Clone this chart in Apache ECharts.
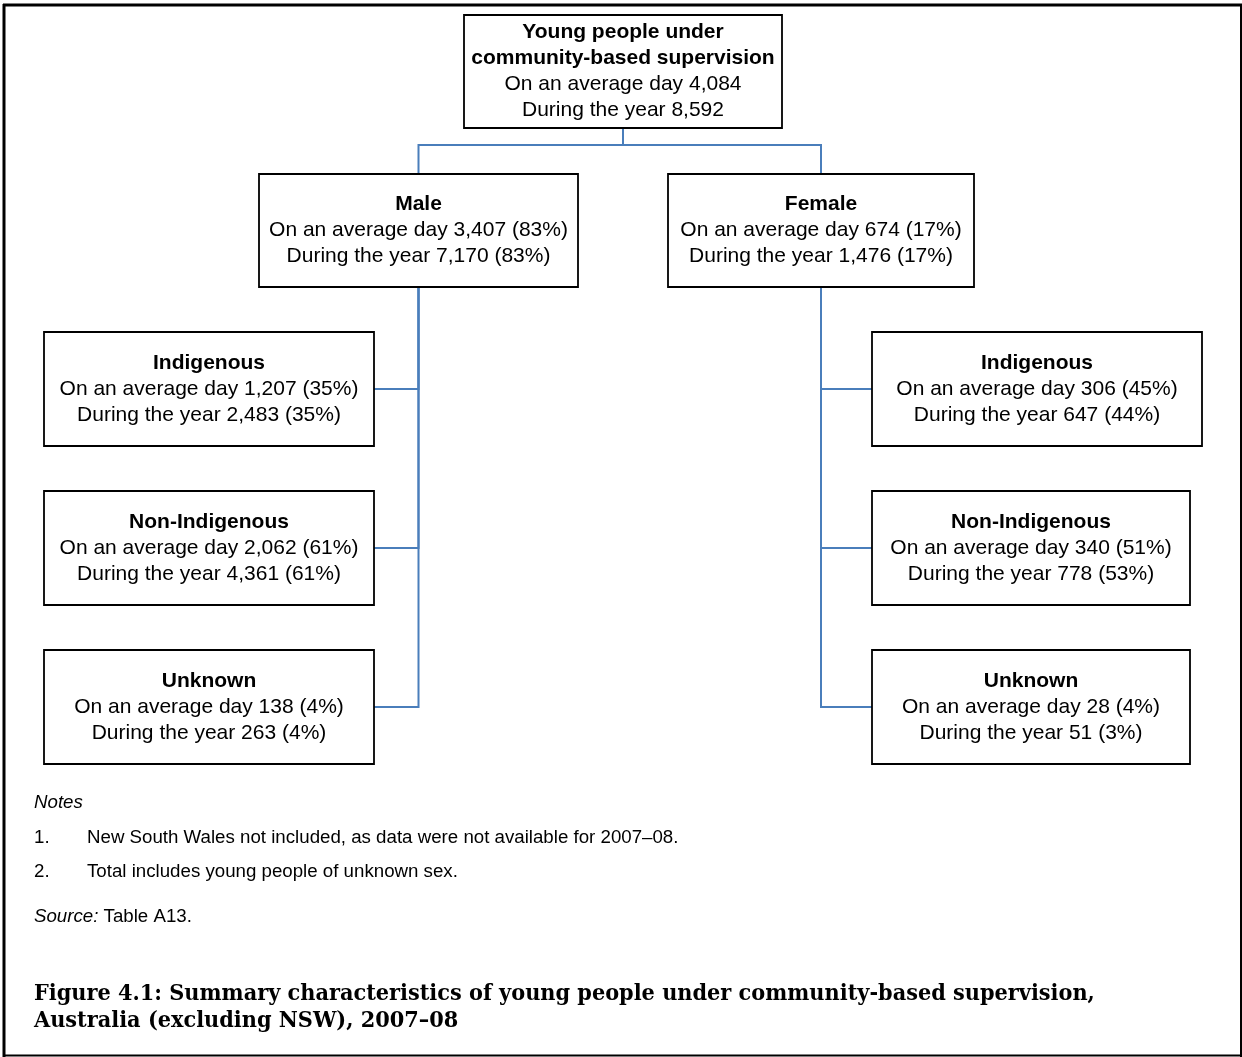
<!DOCTYPE html>
<html>
<head>
<meta charset="utf-8">
<script src="https://cdn.jsdelivr.net/npm/echarts@6/dist/echarts.min.js"></script>
<style>
html,body{margin:0;padding:0;background:#fff;}
#chart{width:1242px;height:1057px;}
</style>
</head>
<body>
<div id="chart"></div>
<script>
// ---- data ----
const nodeTitles = ['Young people under|community-based supervision', 'Male', 'Female',
  'Indigenous', 'Non-Indigenous', 'Unknown', 'Indigenous', 'Non-Indigenous', 'Unknown'];
const nodeParents = [null, 0, 0, 1, 1, 1, 2, 2, 2];
const avgDay = [4084, 3407, 674, 1207, 2062, 138, 306, 340, 28];
const avgDayPct = [null, 83, 17, 35, 61, 4, 45, 51, 4];
const duringYear = [8592, 7170, 1476, 2483, 4361, 263, 647, 778, 51];
const duringYearPct = [null, 83, 17, 35, 61, 4, 44, 53, 3];
const notesHeading = 'Notes';
const notes = ['New South Wales not included, as data were not available for 2007\u201308.',
  'Total includes young people of unknown sex.'];
const sourceLabel = 'Source:';
const sourceText = ' Table A13.';
const captionLines = ['Figure 4.1: Summary characteristics of young people under community-based supervision,',
  'Australia (excluding NSW), 2007\u201308'];

// ---- layout (positions / sizes only) ----
const boxLayout = [
  [464, 15, 318, 113],
  [259, 174, 319, 113],
  [668, 174, 306, 113],
  [44, 332, 330, 114],
  [44, 491, 330, 114],
  [44, 650, 330, 114],
  [872, 332, 330, 114],
  [872, 491, 318, 114],
  [872, 650, 318, 114]
];
const rootBusY = 145;
const lineGap = 26;
const boxFont = '"Liberation Sans", Arial, sans-serif';
const boxFontSize = 21;
const connColor = '#4a7ebb';

function fmt(n) { return String(n).replace(/\B(?=(\d{3})+(?!\d))/g, ','); }

const chart = echarts.init(document.getElementById('chart'), null, {renderer: 'canvas'});
const elements = [];

// outer frame
elements.push({type: 'line', shape: {x1: 3, y1: 5, x2: 1242, y2: 5}, style: {stroke: '#000', lineWidth: 3}});
elements.push({type: 'line', shape: {x1: 4, y1: 4, x2: 4, y2: 1057}, style: {stroke: '#000', lineWidth: 3}});
elements.push({type: 'line', shape: {x1: 1241, y1: 4, x2: 1241, y2: 1057}, style: {stroke: '#000', lineWidth: 2}});
elements.push({type: 'line', shape: {x1: 3, y1: 1055.5, x2: 1242, y2: 1055.5}, style: {stroke: '#000', lineWidth: 2}});

// connectors
nodeParents.forEach((p, i) => {
  if (p === null) return;
  const pb = boxLayout[p], cb = boxLayout[i];
  const px = pb[0] + pb[2] / 2, pyBottom = pb[1] + pb[3];
  let pts;
  if (p === 0) {
    const cx = cb[0] + cb[2] / 2;
    pts = [[px, pyBottom], [px, rootBusY], [cx, rootBusY], [cx, cb[1]]];
  } else {
    const cy = cb[1] + cb[3] / 2;
    const edge = cb[0] + cb[2] < px ? cb[0] + cb[2] : cb[0];
    pts = [[px, pyBottom], [px, cy], [edge, cy]];
  }
  elements.push({type: 'polyline', shape: {points: pts}, style: {stroke: connColor, lineWidth: 2, fill: null}, z: 1});
});

// boxes
nodeTitles.forEach((t, i) => {
  const b = boxLayout[i];
  elements.push({type: 'rect', shape: {x: b[0], y: b[1], width: b[2], height: b[3]},
    style: {fill: '#fff', stroke: '#000', lineWidth: 1.8}, z: 2});
  const lines = [];
  t.split('|').forEach(s => lines.push({text: s, bold: true}));
  lines.push({text: 'On an average day ' + fmt(avgDay[i]) + (avgDayPct[i] !== null ? ' (' + avgDayPct[i] + '%)' : ''), bold: false});
  lines.push({text: 'During the year ' + fmt(duringYear[i]) + (duringYearPct[i] !== null ? ' (' + duringYearPct[i] + '%)' : ''), bold: false});
  const cx = b[0] + b[2] / 2, cy = b[1] + b[3] / 2;
  const start = cy - (lines.length - 1) * lineGap / 2;
  lines.forEach((ln, k) => {
    elements.push({type: 'text', z: 3, style: {
      text: ln.text, x: cx, y: start + k * lineGap, align: 'center', verticalAlign: 'middle',
      font: (ln.bold ? 'bold ' : '') + boxFontSize + 'px ' + boxFont, fill: '#000'}});
  });
});

// notes
const noteSize = 18.7;
const noteFont = noteSize + 'px ' + boxFont;
elements.push({type: 'text', style: {text: notesHeading, x: 34, y: 803, verticalAlign: 'middle', font: 'italic ' + noteFont, fill: '#000'}});
notes.forEach((n, k) => {
  const y = 838 + k * 34;
  elements.push({type: 'text', style: {text: (k + 1) + '.', x: 34, y: y, verticalAlign: 'middle', font: noteFont, fill: '#000'}});
  elements.push({type: 'text', style: {text: n, x: 87, y: y, verticalAlign: 'middle', font: noteFont, fill: '#000'}});
});
elements.push({type: 'text', style: {text: '{i|' + sourceLabel + '}' + sourceText, x: 34, y: 917, verticalAlign: 'middle',
  font: noteFont, fill: '#000', rich: {i: {fontStyle: 'italic', fontSize: noteSize, fontFamily: boxFont}}}});

// caption
captionLines.forEach((c, k) => {
  elements.push({type: 'text', style: {text: c, x: 34, y: 994 + k * 27, verticalAlign: 'middle',
    font: 'bold 23.2px "DejaVu Serif Condensed", "Liberation Serif", serif', fill: '#000'}});
});

chart.setOption({animation: false, backgroundColor: '#fff', graphic: {elements: elements}});
</script>
</body>
</html>
